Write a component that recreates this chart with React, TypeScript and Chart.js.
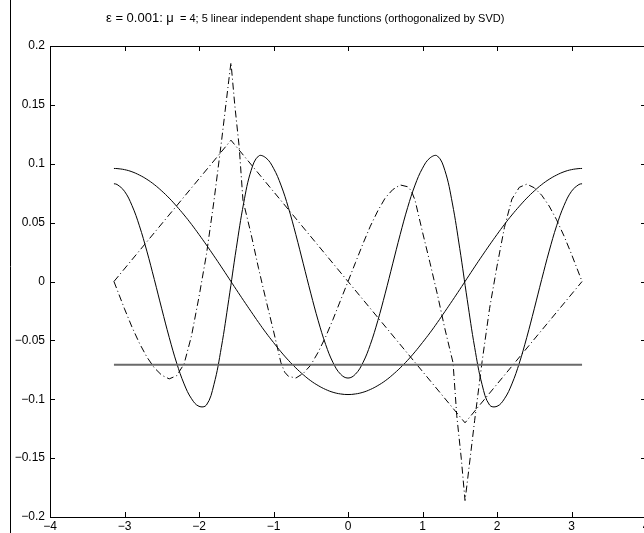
import React, { useEffect, useRef } from "react";
import { Chart, registerables } from "chart.js";

Chart.register(...registerables);

// ---------- data ----------
const xGrid = [
  -3.1416, -3.1, -3.0, -2.9, -2.8, -2.7, -2.6, -2.5, -2.4, -2.3, -2.2, -2.1, -2.0, -1.9, -1.8, -1.7,
  -1.6, -1.5, -1.4, -1.3, -1.2, -1.1, -1.0, -0.9, -0.8, -0.7, -0.6, -0.5, -0.4, -0.3, -0.2, -0.1,
  0,
  0.1, 0.2, 0.3, 0.4, 0.5, 0.6, 0.7, 0.8, 0.9, 1.0, 1.1, 1.2, 1.3, 1.4, 1.5, 1.6,
  1.7, 1.8, 1.9, 2.0, 2.1, 2.2, 2.3, 2.4, 2.5, 2.6, 2.7, 2.8, 2.9, 3.0, 3.1, 3.1416,
];

const cosineShape = [
  0.096, 0.0959, 0.095, 0.0932, 0.0904, 0.0868, 0.0823, 0.0769, 0.0708, 0.0639, 0.0565, 0.0485, 0.0399, 0.031, 0.0218, 0.0124,
  0.0028, -0.0068, -0.0163, -0.0256, -0.0348, -0.0436, -0.0518, -0.0597, -0.0669, -0.0734, -0.0792, -0.0843, -0.0884, -0.0917, -0.0941, -0.0955,
  -0.096,
  -0.0955, -0.0941, -0.0917, -0.0884, -0.0843, -0.0792, -0.0734, -0.0669, -0.0597, -0.0518, -0.0436, -0.0348, -0.0256, -0.0163, -0.0068, 0.0028,
  0.0124, 0.0218, 0.031, 0.0399, 0.0485, 0.0565, 0.0639, 0.0708, 0.0769, 0.0823, 0.0868, 0.0904, 0.0932, 0.095, 0.0959, 0.096,
];

const oscillatingShape = [
  0.083, 0.0824, 0.0766, 0.0646, 0.0473, 0.0258, 0.0018, -0.0232, -0.0474, -0.0692, -0.087, -0.0996, -0.106, -0.1049, -0.0876, -0.0559,
  -0.0152, 0.028, 0.0667, 0.0944, 0.1066, 0.1049, 0.0962, 0.0819, 0.0627, 0.0398, 0.015, -0.0099, -0.0333, -0.0535, -0.069, -0.0787,
  -0.082,
  -0.0787, -0.069, -0.0535, -0.0333, -0.0099, 0.015, 0.0398, 0.0627, 0.0819, 0.0962, 0.1049, 0.1066, 0.0944, 0.0667, 0.028, -0.0152,
  -0.0559, -0.0876, -0.1049, -0.106, -0.0996, -0.087, -0.0692, -0.0474, -0.0232, 0.0018, 0.0258, 0.0473, 0.0646, 0.0766, 0.0824, 0.083,
];

const constantX = [-3.1416, 3.1416];
const constantShape = [-0.0707, -0.0707];

const hatX = [-3.1416, -1.5708, 1.5708, 3.1416];
const hatShape = [0, 0.12, -0.12, 0];

const spikeX = [
  -3.1416, -3.0, -2.9, -2.8, -2.7, -2.6, -2.5, -2.4, -2.3, -2.2, -2.1, -2.0, -1.9, -1.8, -1.7, -1.6,
  -1.5708, -1.52, -1.46, -1.41, -1.3, -1.2, -1.1, -1.0, -0.9, -0.85, -0.8, -0.7, -0.6, -0.5, -0.4, -0.3,
  -0.2, -0.1, 0,
  0.1, 0.2, 0.3, 0.4, 0.5, 0.6, 0.7, 0.8, 0.85, 0.9, 1.0, 1.1, 1.2, 1.3, 1.41, 1.46,
  1.52, 1.5708, 1.6, 1.7, 1.8, 1.9, 2.0, 2.1, 2.2, 2.3, 2.4, 2.5, 2.6, 2.7, 2.8, 2.9, 3.0, 3.1416,
];
const spikeShape = [
  0, -0.0232, -0.0386, -0.0524, -0.0641, -0.0733, -0.0796, -0.0827, -0.08, -0.07, -0.046, -0.013, 0.023, 0.068, 0.118, 0.171,
  0.186, 0.15, 0.114, 0.069, 0.04, 0.011, -0.016, -0.042, -0.069, -0.077, -0.0805, -0.082, -0.078, -0.071, -0.06, -0.047,
  -0.032, -0.016, 0,
  0.016, 0.032, 0.047, 0.06, 0.071, 0.078, 0.082, 0.0805, 0.077, 0.069, 0.042, 0.016, -0.011, -0.04, -0.069, -0.114,
  -0.15, -0.186, -0.171, -0.118, -0.068, -0.023, 0.013, 0.046, 0.07, 0.08, 0.0827, 0.0796, 0.0733, 0.0641, 0.0524, 0.0386, 0.0232, 0,
];

const xTickValues = [-4, -3, -2, -1, 0, 1, 2, 3, 4];
const xTickLabels = ["\u22124", "\u22123", "\u22122", "\u22121", "0", "1", "2", "3", "4"];
const yTickValues = [-0.2, -0.15, -0.1, -0.05, 0, 0.05, 0.1, 0.15, 0.2];
const yTickLabels = ["\u22120.2", "\u22120.15", "\u22120.1", "\u22120.05", "0", "0.05", "0.1", "0.15", "0.2"];

const titleMain = "\u03b5 = 0.001: \u03bc";
const titleRest = "  = 4; 5 linear independent shape functions (orthogonalized by SVD)";

// ---------- helpers ----------
const FONT = '"Liberation Sans", Arial, Helvetica, sans-serif';
const zip = (xs: number[], ys: number[]) => xs.map((x, i) => ({ x, y: ys[i] }));

const framePlugin = {
  id: "matlabFrame",
  afterDraw(chart: any) {
    const { ctx, chartArea } = chart;
    const { left, right, top, bottom } = chartArea;
    const xs = chart.scales.x;
    const ys = chart.scales.y;
    ctx.save();
    ctx.strokeStyle = "#000";
    ctx.lineWidth = 1;
    // box
    ctx.strokeRect(left + 0.5, top + 0.5, right - left, bottom - top);
    // inward ticks
    const tl = 5;
    ctx.beginPath();
    xTickValues.forEach((v) => {
      const px = Math.round(xs.getPixelForValue(v)) + 0.5;
      ctx.moveTo(px, bottom);
      ctx.lineTo(px, bottom - tl);
      ctx.moveTo(px, top);
      ctx.lineTo(px, top + tl);
    });
    yTickValues.forEach((v) => {
      const py = Math.round(ys.getPixelForValue(v)) + 0.5;
      ctx.moveTo(left, py);
      ctx.lineTo(left + tl, py);
      ctx.moveTo(right, py);
      ctx.lineTo(right - tl, py);
    });
    ctx.stroke();
    // stray vertical rule at the far left of the figure
    ctx.beginPath();
    ctx.moveTo(10.5, 0);
    ctx.lineTo(10.5, chart.height);
    ctx.stroke();
    // title (two font sizes, as in the reference)
    ctx.fillStyle = "#000";
    ctx.textBaseline = "alphabetic";
    ctx.textAlign = "left";
    ctx.font = `13px ${FONT}`;
    const x0 = 106;
    ctx.fillText(titleMain, x0, 22);
    const w0 = ctx.measureText(titleMain).width;
    ctx.font = `11px ${FONT}`;
    ctx.fillText(titleRest, x0 + w0, 22);
    ctx.restore();
  },
};

export default function App() {
  const ref = useRef<HTMLCanvasElement | null>(null);

  useEffect(() => {
    if (!ref.current) return;
    const lineBase = { pointRadius: 0, pointHoverRadius: 0, fill: false };
    const chart = new Chart(ref.current, {
      type: "line",
      data: {
        datasets: [
          { ...lineBase, data: zip(constantX, constantShape), borderColor: "#6a6a6a", borderWidth: 1.8, tension: 0 },
          { ...lineBase, data: zip(xGrid, cosineShape), borderColor: "#000", borderWidth: 1, tension: 0.4 },
          { ...lineBase, data: zip(xGrid, oscillatingShape), borderColor: "#000", borderWidth: 1, tension: 0.4 },
          { ...lineBase, data: zip(hatX, hatShape), borderColor: "#000", borderWidth: 1, borderDash: [7, 3, 1, 3], tension: 0 },
          { ...lineBase, data: zip(spikeX, spikeShape), borderColor: "#000", borderWidth: 1, borderDash: [7, 3, 1, 3], tension: 0 },
        ],
      } as any,
      options: {
        animation: false,
        responsive: false,
        devicePixelRatio: 1,
        events: [],
        layout: { padding: { left: 0, right: 14, top: 46, bottom: 0 } },
        plugins: { legend: { display: false }, tooltip: { enabled: false }, title: { display: false } },
        scales: {
          x: {
            type: "linear",
            min: -4,
            max: 4,
            grid: { display: false, drawTicks: false },
            border: { display: false },
            ticks: {
              stepSize: 1,
              autoSkip: false,
              maxRotation: 0,
              padding: 2,
              color: "#000",
              font: { family: FONT, size: 12 },
              callback: (_v: any, i: number) => xTickLabels[i],
            },
            afterFit: (s: any) => {
              s.height = 16;
            },
          },
          y: {
            type: "linear",
            min: -0.2,
            max: 0.2,
            grid: { display: false, drawTicks: false },
            border: { display: false },
            ticks: {
              stepSize: 0.05,
              autoSkip: false,
              padding: 5,
              color: "#000",
              font: { family: FONT, size: 12 },
              callback: (_v: any, i: number) => yTickLabels[i],
            },
            afterFit: (s: any) => {
              s.width = 50;
            },
          },
        },
      } as any,
      plugins: [framePlugin],
    });
    return () => chart.destroy();
  }, []);

  return (
    <div
      style={{
        position: "fixed",
        left: 0,
        top: 0,
        width: 644,
        height: 533,
        overflow: "hidden",
        background: "#fff",
      }}
    >
      <canvas ref={ref} width={660} height={533} style={{ width: 660, height: 533, display: "block" }} />
    </div>
  );
}
